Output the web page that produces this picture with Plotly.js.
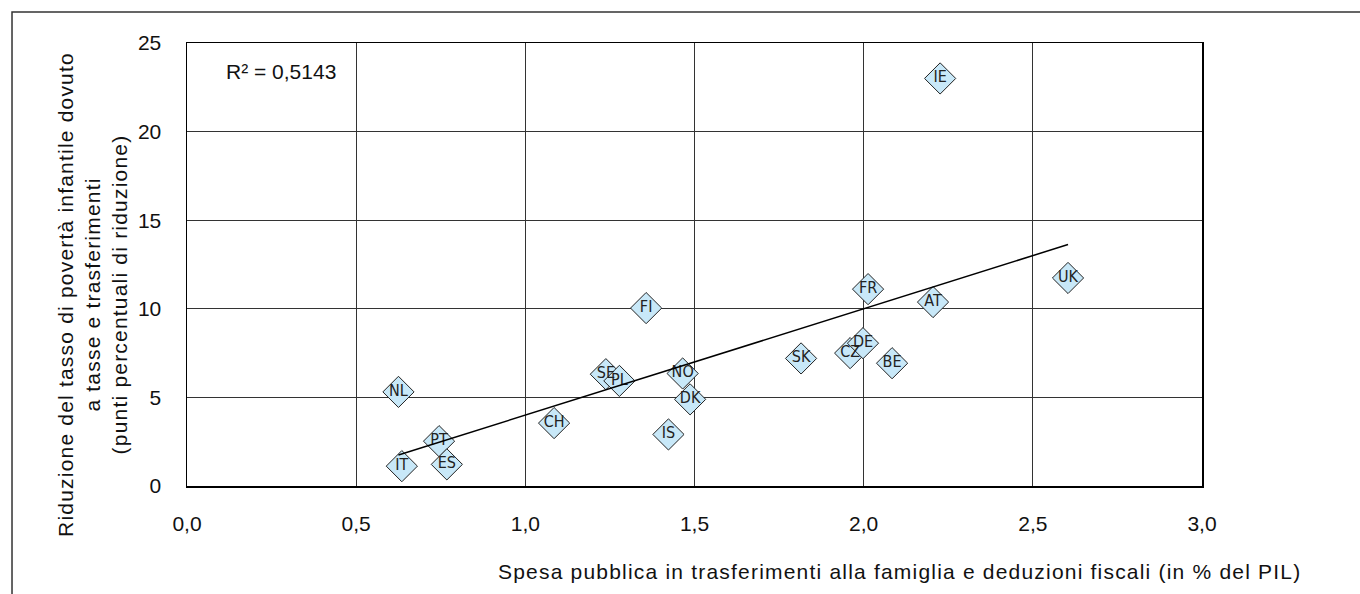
<!DOCTYPE html>
<html>
<head>
<meta charset="utf-8">
<script src="https://cdn.plot.ly/plotly-3.0.1.min.js"></script>
<style>html,body{margin:0;padding:0;background:#fff;}#chart{width:1360px;height:594px;}</style>
</head>
<body>
<div id="chart"></div>
<script>
// Data
const countries = ["NL","IT","PT","ES","CH","SE","PL","FI","IS","NO","DK","SK","CZ","DE","BE","FR","AT","IE","UK"];
const spending  = [0.625,0.635,0.745,0.768,1.085,1.238,1.278,1.357,1.423,1.465,1.487,1.815,1.960,1.998,2.084,2.013,2.205,2.226,2.604];
const reduction = [5.31,1.12,2.53,1.22,3.55,6.31,5.93,10.04,2.91,6.35,4.89,7.20,7.50,8.06,6.93,11.11,10.38,23.00,11.74];
const xTicks = [0,0.5,1,1.5,2,2.5,3];
const yTicks = [0,5,10,15,20,25];
const r2Label = "R² = 0,5143";
const xTitle = "Spesa pubblica in trasferimenti alla famiglia e deduzioni fiscali (in % del PIL)";
const yTitleLines = ["Riduzione del tasso di povertà infantile dovuto", "a tasse e trasferimenti", "(punti percentuali di riduzione)"];

// Least-squares trend line computed from the data
const n = spending.length;
const mx = spending.reduce((a,b)=>a+b,0)/n;
const my = reduction.reduce((a,b)=>a+b,0)/n;
let sxy=0, sxx=0;
for (let i=0;i<n;i++){ sxy+=(spending[i]-mx)*(reduction[i]-my); sxx+=(spending[i]-mx)**2; }
const slope = sxy/sxx, intercept = my - slope*mx;
const trendX = [Math.min(...spending), Math.max(...spending)];
const trendY = trendX.map(v=>intercept+slope*v);

const font = "Liberation Sans, Arial, sans-serif";
const sp = t => '<span style="letter-spacing:1.2px">' + t + '</span>';

const traces = [
  {
    x: spending, y: reduction, text: countries,
    type: "scatter", mode: "markers+text",
    marker: {symbol: "diamond", size: 24, color: "#c8e8f8", line: {color: "#222", width: 1}},
    textposition: "middle center",
    textfont: {family: "Liberation Sans Narrow, DejaVu Sans Condensed, sans-serif", size: 16, color: "#222"},
    hoverinfo: "x+y+text", showlegend: false, cliponaxis: false
  },
  {
    x: trendX, y: trendY, type: "scatter", mode: "lines",
    line: {color: "#000", width: 1.5}, showlegend: false, hoverinfo: "skip"
  }
];

const layout = {
  width: 1360, height: 594,
  margin: {l: 187, r: 158, t: 43, b: 108, pad: 0},
  paper_bgcolor: "#fff", plot_bgcolor: "#fff",
  separators: ",.",
  font: {family: font, size: 21, color: "#111"},
  showlegend: false,
  xaxis: {
    range: [0, 3], tickvals: xTicks, tickformat: ".1f",
    showgrid: true, gridcolor: "#333", gridwidth: 1,
    showline: true, linecolor: "#000", linewidth: 1.5, mirror: true,
    ticks: "outside", ticklen: 18, tickcolor: "rgba(0,0,0,0)",
    zeroline: false, tickfont: {size: 21, family: font, color: "#111"}
  },
  yaxis: {
    range: [0, 25], tickvals: yTicks,
    showgrid: true, gridcolor: "#333", gridwidth: 1,
    showline: true, linecolor: "#000", linewidth: 1.5, mirror: true,
    ticks: "outside", ticklen: 20, tickcolor: "rgba(0,0,0,0)",
    zeroline: false, tickfont: {size: 21, family: font, color: "#111"}
  },
  annotations: [
    {xref: "paper", yref: "paper", x: 1.0998, y: -0.1928, xanchor: "right", yanchor: "middle",
     text: sp(xTitle),
     showarrow: false, font: {size: 21, family: font, color: "#111"}},
    {xref: "paper", yref: "paper", x: -0.0933, y: 0.432, xanchor: "center", yanchor: "middle",
     textangle: -90,
     text: yTitleLines.map(sp).join("<br>"),
     showarrow: false, font: {size: 21, family: font, color: "#111"}},
    {xref: "paper", yref: "paper", x: 0.0926, y: 0.935, xanchor: "center", yanchor: "middle",
     text: r2Label,
     showarrow: false, font: {size: 21, family: font, color: "#111"}}
  ],
  shapes: [
    {type: "rect", xref: "paper", yref: "paper", x0: -0.1724, x1: 1.2, y0: -0.3, y1: 1.0701,
     line: {color: "#333", width: 1.5}, fillcolor: "rgba(0,0,0,0)", layer: "below"}
  ]
};

Plotly.newPlot("chart", traces, layout, {displayModeBar: false, staticPlot: true});
</script>
</body>
</html>
